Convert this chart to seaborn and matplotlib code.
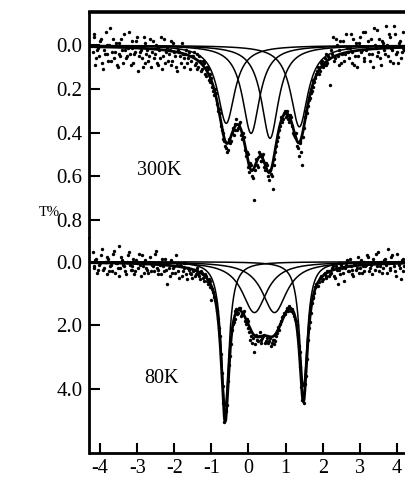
import numpy as np
import pandas as pd
import seaborn as sns
import matplotlib.pyplot as plt

# measured absorption (T%), first sweep: channels from -4.2 to 4.2 mm/s
absorb_300k_a = [
    0.03, -0.04, 0.06, 0.01, -0.02, 0.08, 0.02, -0.06, 0.04, 0.00,
    0.07, -0.03, 0.03, 0.09, -0.01, 0.05, 0.02, -0.05, 0.06, 0.01,
    0.04, -0.02, 0.08, 0.03, -0.04, 0.05, 0.02, 0.10, -0.01, 0.04,
    0.07, -0.03, 0.03, 0.06, 0.00, 0.09, 0.02, -0.04, 0.05, 0.08,
    0.01, 0.04, -0.02, 0.07, 0.03, 0.10, 0.02, 0.05, -0.01, 0.06,
    0.04, 0.08, 0.03, 0.07,
    0.05, 0.09, 0.04, 0.10, 0.07, 0.11, 0.08, 0.14, 0.11, 0.17,
    0.15, 0.21, 0.20, 0.27, 0.29, 0.37, 0.40, 0.44, 0.47, 0.48,
    0.45, 0.40, 0.41, 0.36, 0.39, 0.36, 0.41, 0.40, 0.48, 0.49,
    0.56, 0.54, 0.60, 0.71, 0.52, 0.56, 0.50, 0.53, 0.50, 0.57,
    0.55, 0.62, 0.59, 0.66, 0.52, 0.46, 0.42, 0.37, 0.35, 0.31,
    0.33, 0.30, 0.35, 0.33, 0.40, 0.42, 0.46, 0.51, 0.44, 0.55,
    0.38, 0.30, 0.28, 0.24, 0.21, 0.16, 0.15, 0.12, 0.13, 0.08,
    0.10, 0.06, 0.09, 0.05, 0.18,
    0.04, 0.07, -0.03, 0.05, 0.02, 0.08, -0.02, 0.04, 0.01, 0.06,
    -0.05, 0.03, 0.09, -0.01, 0.05, -0.04, 0.02, 0.07, -0.06, 0.01,
    0.04, -0.03, 0.10, 0.00, -0.07, 0.03, 0.06, -0.02, 0.02, -0.09,
    0.05, -0.04, 0.01, 0.08, -0.05, 0.03, -0.01, 0.06, -0.06, 0.02,
]
# second sweep, channels from -4.175 to 4.175 mm/s
absorb_300k_b = [
    -0.05, 0.09, 0.02, 0.05, -0.03, 0.11, 0.04, 0.00, 0.07, -0.08,
    0.03, 0.06, -0.01, 0.10, 0.04, -0.03, 0.08, 0.02, 0.05, -0.06,
    0.09, 0.01, 0.04, -0.02, 0.12, 0.03, 0.06, -0.04, 0.08, 0.02,
    0.05, 0.10, -0.02, 0.04, 0.08, 0.01, 0.06, 0.11, -0.03, 0.03,
    0.07, 0.02, 0.09, -0.01, 0.05, 0.12, 0.03, 0.08, 0.04, 0.10,
    0.02, 0.06, 0.11, 0.05,
    0.03, 0.08, 0.11, 0.05, 0.12, 0.07, 0.13, 0.10, 0.16, 0.13,
    0.19, 0.23, 0.22, 0.30, 0.31, 0.39, 0.43, 0.46, 0.49, 0.43,
    0.44, 0.38, 0.39, 0.34, 0.38, 0.35, 0.43, 0.42, 0.51, 0.50,
    0.58, 0.55, 0.61, 0.57, 0.55, 0.49, 0.53, 0.51, 0.56, 0.54,
    0.60, 0.57, 0.60, 0.55, 0.49, 0.44, 0.39, 0.33, 0.34, 0.30,
    0.32, 0.34, 0.32, 0.37, 0.41, 0.40, 0.47, 0.45, 0.49, 0.42,
    0.33, 0.31, 0.25, 0.22, 0.19, 0.17, 0.13, 0.10, 0.12, 0.07,
    0.09, 0.04, 0.08, 0.06,
    0.02, -0.04, 0.06, 0.00, 0.09, -0.02, 0.04, 0.07, -0.05, 0.03,
    0.01, 0.08, -0.03, 0.05, 0.10, -0.01, 0.03, -0.06, 0.06, 0.02,
    -0.02, 0.07, 0.04, -0.08, 0.01, 0.05, -0.03, 0.09, -0.01, 0.04,
    0.00, -0.05, 0.07, 0.02, -0.09, 0.04, 0.08, -0.02, 0.03, 0.01,
]

absorb_80k_a = [
    -0.30, 0.15, -0.10, 0.25, 0.05, -0.40, 0.20, 0.00, -0.15, 0.30,
    0.10, -0.25, 0.35, 0.05, -0.50, 0.20, -0.05, 0.15, 0.40, -0.20,
    0.10, 0.25, -0.10, 0.30, 0.05, -0.25, 0.45, 0.15, -0.05, 0.20,
    0.35, -0.15, 0.10, 0.30, -0.35, 0.25, 0.05, 0.40, 0.15, -0.10,
    0.70, 0.20, 0.00, 0.35, 0.15, -0.20, 0.30, 0.10, 0.45, 0.20,
    0.05, 0.55, 0.25, 0.40,
    0.30, 0.45, 0.20, 0.40, 0.55, 0.35, 0.60, 0.45, 0.70, 0.60,
    1.20, 0.95, 1.20, 1.55, 2.10, 2.90, 3.90, 5.05, 4.70, 3.75,
    2.95, 2.15, 1.90, 1.55, 1.65, 1.45, 1.70, 1.60, 1.85, 1.80,
    2.10, 2.45, 2.55, 2.85, 2.30, 2.50, 2.20, 2.45, 2.35, 2.55,
    2.40, 2.50, 2.65, 2.45, 2.60, 2.35, 2.05, 1.95, 1.75, 1.60,
    1.55, 1.45, 1.40, 1.55, 1.60, 1.80, 2.00, 2.65, 3.30, 4.35,
    4.45, 3.60, 2.45, 1.90, 1.30, 1.10, 0.80, 0.75, 0.65, 0.45,
    0.55, 0.35, 0.45, 0.30, 0.40,
    0.20, 0.45, 0.15, 0.70, 0.25, 0.10, 0.35, 0.20, -0.05, 0.30,
    0.15, 0.40, 0.05, 0.25, -0.15, 0.20, 0.35, 0.00, 0.15, -0.20,
    0.30, 0.10, -0.10, 0.25, 0.05, -0.30, 0.15, 0.35, -0.05, 0.10,
    -0.40, 0.20, -0.15, 0.05, 0.30, -0.25, 0.10, 0.55, -0.10, 0.15,
]
absorb_80k_b = [
    0.20, -0.05, 0.35, 0.10, -0.20, 0.25, 0.00, 0.40, -0.10, 0.15,
    0.30, -0.35, 0.05, 0.20, 0.45, -0.15, 0.10, 0.30, 0.00, -0.30,
    0.25, 0.15, 0.40, -0.05, 0.20, 0.10, -0.20, 0.35, 0.05, 0.25,
    0.00, 0.30, 0.15, -0.25, 0.20, 0.40, 0.10, -0.10, 0.30, 0.25,
    0.05, 0.45, -0.05, 0.20, 0.35, 0.10, 0.50, 0.15, 0.30, 0.05,
    0.40, 0.20, 0.35, 0.50,
    0.25, 0.40, 0.30, 0.45, 0.30, 0.50, 0.40, 0.60, 0.55, 0.80,
    0.85, 1.10, 1.30, 1.80, 2.35, 3.50, 4.45, 4.95, 4.50, 3.25,
    2.60, 1.95, 1.80, 1.50, 1.60, 1.45, 1.65, 1.55, 1.95, 1.85,
    2.20, 2.35, 2.40, 2.60, 2.45, 2.35, 2.55, 2.40, 2.30, 2.50,
    2.55, 2.40, 2.55, 2.45, 2.50, 2.25, 2.15, 1.85, 1.70, 1.65,
    1.50, 1.55, 1.45, 1.50, 1.70, 1.85, 2.30, 2.85, 3.95, 4.30,
    3.85, 3.05, 2.10, 1.60, 1.15, 1.00, 0.70, 0.75, 0.50, 0.60,
    0.40, 0.50, 0.30, 0.45,
    0.35, 0.15, 0.50, 0.25, 0.05, 0.40, 0.20, 0.60, 0.10, 0.30,
    -0.10, 0.25, 0.45, 0.05, 0.20, 0.35, -0.05, 0.15, 0.30, 0.10,
    -0.15, 0.20, 0.40, 0.05, -0.25, 0.15, 0.30, 0.00, 0.20, -0.10,
    0.35, 0.05, 0.25, -0.20, 0.15, 0.45, 0.00, 0.20, -0.05, 0.30,
]

# fitted Lorentzian sub-spectra: centre (mm/s), depth, half width
fit300_centre = [-0.60, 0.07, 0.58, 1.37]
fit300_depth = [0.358, 0.404, 0.427, 0.374]
fit300_hwhm = [0.28, 0.28, 0.28, 0.28]

fit80_centre = [-0.63, 0.16, 0.70, 1.48]
fit80_depth = [4.55, 1.60, 1.60, 3.92]
fit80_hwhm = [0.13, 0.40, 0.40, 0.13]

x_ticks = [-4, -3, -2, -1, 0, 1, 2, 3, 4]
y_ticks_300 = [0.0, 0.2, 0.4, 0.6, 0.8]
y_ticks_80 = [0.0, 2.0, 4.0]

sns.set_style("ticks")
plt.rcParams['font.family'] = ['Liberation Serif', 'DejaVu Serif']
plt.rcParams['axes.unicode_minus'] = False
for key in ['text.color', 'axes.labelcolor', 'xtick.color', 'ytick.color',
            'axes.edgecolor']:
    plt.rcParams[key] = 'black'

XLIM = (-4.283, 4.243)


def lorentz(v, c, d, w):
    return d / (1.0 + ((v - c) / w) ** 2)


def draw_panel(ax, sweep_a, sweep_b, centres, depths, widths):
    df = pd.concat([
        pd.DataFrame({'v': np.linspace(-4.2, 4.2, len(sweep_a)), 'T': sweep_a}),
        pd.DataFrame({'v': np.linspace(-4.175, 4.175, len(sweep_b)), 'T': sweep_b}),
    ])
    sns.scatterplot(data=df, x='v', y='T', ax=ax, color='black', s=6,
                    linewidth=0, zorder=3)
    vf = np.linspace(XLIM[0], XLIM[1], 1500)
    total = np.zeros_like(vf)
    for c, d, w in zip(centres, depths, widths):
        comp = lorentz(vf, c, d, w)
        total += comp
        sns.lineplot(x=vf, y=comp, ax=ax, color='black', linewidth=1.1,
                     estimator=None, sort=False, zorder=2)
    sns.lineplot(x=vf, y=total, ax=ax, color='black', linewidth=2.0,
                 estimator=None, sort=False, zorder=4)
    ax.set_xlim(*XLIM)
    ax.set_xlabel('')
    ax.set_ylabel('')


fig = plt.figure(figsize=(4.06, 4.79), dpi=100)
ax1 = fig.add_axes([89.5 / 406, 1 - 238 / 479, 1 - 89.5 / 406, 226 / 479])
ax2 = fig.add_axes([89.5 / 406, 1 - 453 / 479, 1 - 89.5 / 406, 215 / 479])

draw_panel(ax1, absorb_300k_a, absorb_300k_b, fit300_centre, fit300_depth,
           fit300_hwhm)
draw_panel(ax2, absorb_80k_a, absorb_80k_b, fit80_centre, fit80_depth,
           fit80_hwhm)

ax1.set_ylim(0.884, -0.153)
ax2.set_ylim(6.015, -0.745)

ax1.set_yticks(y_ticks_300)
ax1.set_yticklabels([f'{t:.1f}' for t in y_ticks_300])
ax2.set_yticks(y_ticks_80)
ax2.set_yticklabels([f'{t:.1f}' for t in y_ticks_80])
ax2.set_xticks(x_ticks)
ax2.set_xticklabels([str(t) for t in x_ticks])
ax1.set_xticks([])

for ax in (ax1, ax2):
    ax.spines['right'].set_visible(False)
    ax.spines['left'].set_linewidth(2.0)
    ax.tick_params(axis='y', direction='in', length=8, width=1.5,
                   labelsize=15, pad=5)
ax1.spines['bottom'].set_visible(False)
ax1.spines['top'].set_linewidth(2.6)
ax2.spines['top'].set_visible(False)
ax2.spines['bottom'].set_linewidth(2.0)
ax2.tick_params(axis='x', direction='in', length=7, width=1.5,
                labelsize=14.5, pad=4)

ax1.text(-2.41, 0.595, '300K', fontsize=14.5, ha='center', va='baseline')
ax2.text(-2.33, 3.81, '80K', fontsize=14.5, ha='center', va='baseline')
fig.text(49 / 406, 1 - 213 / 479, 'T%', fontsize=10.5, ha='center',
         va='center')

fig.savefig('out.png', dpi=100)
